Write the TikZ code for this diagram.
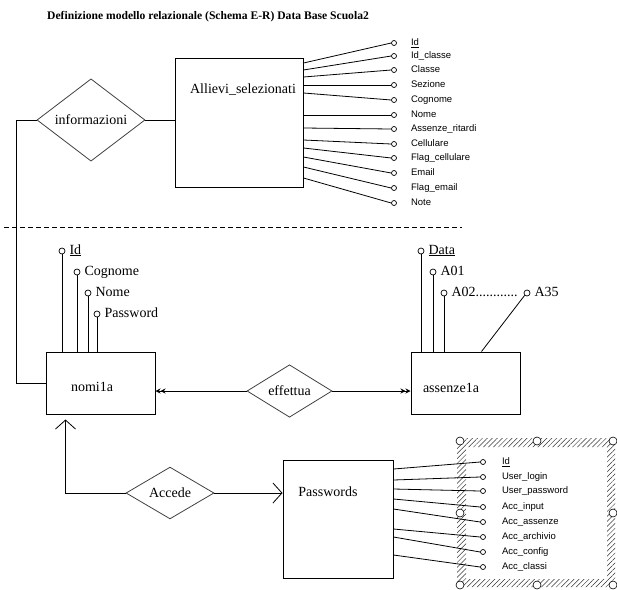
\documentclass[tikz,border=0pt]{standalone}
\usepackage{fontspec}
\setmainfont{Liberation Serif}
\setsansfont{Liberation Sans}
\usetikzlibrary{arrows.meta,calc,shapes.geometric,patterns.meta}

\tikzset{
  entity/.style={draw, line width=1pt, inner sep=0pt},
  relation/.style={draw=black!75, diamond, line width=0.8pt, inner sep=0pt, font=\fontsize{14}{16}\selectfont},
  attrdot/.style={draw, circle, line width=0.7pt, inner sep=0pt, minimum size=5pt},
  attrname/.style={anchor=west, inner sep=0pt, text height=6.5pt, text depth=2pt, font=\sffamily\fontsize{9.5}{11}\selectfont},
  attrtxt/.style={anchor=west, inner sep=0pt, text height=9pt, text depth=3pt, font=\fontsize{14}{16}\selectfont},
  bigname/.style={inner sep=0pt, font=\fontsize{14}{16}\selectfont},
  link/.style={line width=0.8pt},
  twotip/.style={-{Stealth[length=5pt,width=5pt] Stealth[length=5pt,width=5pt]}},
  vtip/.style={-{Straight Barb[length=9pt,width=20pt]}},
}

\begin{document}
\begin{tikzpicture}[x=1pt, y=-1pt]
\useasboundingbox (0,0) rectangle (617,589);

% title
\node[anchor=west, inner sep=0pt, font=\fontsize{11.6}{14}\selectfont\bfseries] (title) at (47,17)
  {Definizione modello relazionale (Schema E-R) Data Base Scuola2};

% Allievi_selezionati
\node[entity, minimum width=128pt, minimum height=129pt] (allievi) at (239,122.5) {};
\node[bigname] (allievitxt) at (243,90) {Allievi\_selezionati};
\foreach \lab/\cy/\oy [count=\i] in {{\underline{Id}}/43/63, Id\_classe/56/70, Classe/70/77,
    Sezione/85/85, Cognome/100/93, Nome/115/115, Assenze\_ritardi/129/128, Cellulare/144/140,
    Flag\_cellulare/158/148, Email/173/157, Flag\_email/188/167, Note/203/178}{
  \node[attrdot] (al\i) at (394,\cy) {};
  \node[attrname] (allab\i) at ($(al\i.east)+(14,0)$) {\lab};
  \draw[link] (allievi.east |- 0,\oy) -- (al\i.west);
}

% nomi1a
\node[entity, minimum width=109pt, minimum height=62pt] (nomila) at (100.5,383) {};
\node[bigname] (nomilatxt) at (92,387) {nomi1a};
\foreach \lab/\cx/\cy [count=\i] in {{\underline{Id}}/62/251, Cognome/77/272, Nome/88/293, Password/97/314}{
  \node[attrdot, minimum size=6pt] (nm\i) at (\cx,\cy) {};
  \node[attrtxt] (nmlab\i) at ($(nm\i.east)+(4,0)$) {\lab};
  \draw[link] (nm\i.south) -- (nm\i.south |- nomila.north);
}

% informazioni
\node[relation, minimum width=108pt, minimum height=70pt] (info) at (91,120) {informazioni};
\draw[link] (info.east) -- (info.east -| allievi.west);
\draw[link] (info.west) -- ++(-20,0) |- (nomila.west);

% separator
\draw[dash pattern=on 5pt off 3pt, line width=0.8pt] (4,227) -- (462,227);

% assenze1a
\node[entity, minimum width=109pt, minimum height=62pt] (assenze) at (465.5,383) {};
\node[bigname] (assenzetxt) at (451,388) {assenze1a};
\foreach \lab/\cx/\cy [count=\i] in {{\underline{Data}}/421/251, A01/433/272}{
  \node[attrdot, minimum size=6pt] (as\i) at (\cx,\cy) {};
  \node[attrtxt] (aslab\i) at ($(as\i.east)+(4,0)$) {\lab};
  \draw[link] (as\i.south) -- (as\i.south |- assenze.north);
}
\node[attrdot, minimum size=6pt] (as3) at (444,293) {};
\node[attrtxt] (aslab3) at ($(as3.east)+(4,0)$) {A02............};
\draw[link] (as3.south) -- (as3.south |- assenze.north);
\node[attrdot, minimum size=6pt] (a35) at (527,293) {};
\node[attrtxt] (a35lab) at ($(a35.east)+(4,0)$) {A35};
\draw[link] (a35.south west) -- ($(assenze.north west)+(71,0)$);

% effettua
\node[relation, minimum width=85pt, minimum height=48pt] (eff) at (289.5,391) {effettua};
\draw[link, twotip] (eff.west) -- (eff.west -| nomila.east);
\draw[link, twotip] (eff.east) -- (eff.east -| assenze.west);

% Passwords
\node[entity, minimum width=110pt, minimum height=118pt] (pw) at (338,519) {};
\node[bigname] (pwtxt) at (328,492) {Passwords};

% Accede
\node[relation, minimum width=88pt, minimum height=47pt] (acc) at (170,493) {Accede};
\draw[link, vtip, shorten >=5pt] (acc.west) -| ($(nomila.south west)+(20,0)$);
\draw[link, vtip] (acc.east) -- (acc.east -| pw.west);

% selection frame round the attribute list
\fill[pattern={Lines[angle=45, distance=3.5pt, line width=0.5pt]}, pattern color=black!80, even odd rule]
  (457,438) rectangle (615,587) (466,447) rectangle (607,579);
\foreach \lab/\cy/\oy [count=\i] in {{\underline{Id}}/462/469, User\_login/477/480, User\_password/491/489,
    Acc\_input/507/499, Acc\_assenze/522/509, Acc\_archivio/537/529, Acc\_config/552/537, Acc\_classi/567/555}{
  \node[attrdot] (pa\i) at (483,\cy) {};
  \node[attrname] (palab\i) at ($(pa\i.east)+(16,0)$) {\lab};
  \draw[link] (pw.east |- 0,\oy) -- (pa\i.west);
}
\foreach \hx/\hy in {460/441, 537/441, 613/441, 460/513, 613/513, 460/585, 537/585, 613/585}
  \draw[line width=0.6pt, fill=white] (\hx,\hy) circle (4pt);
\end{tikzpicture}
\end{document}
